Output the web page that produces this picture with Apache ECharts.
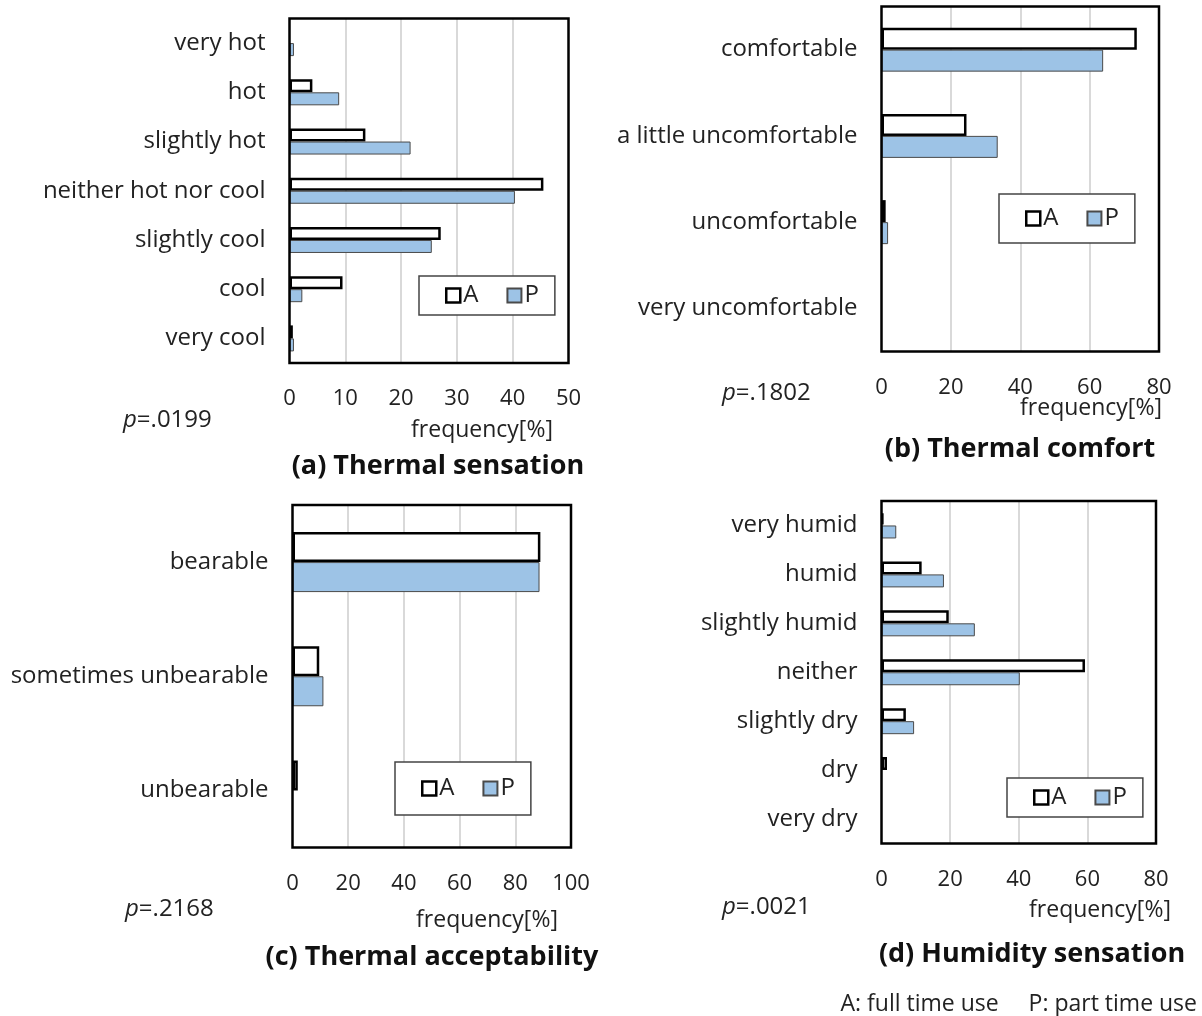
<!DOCTYPE html>
<html style="height: 100%;">
<head>
<meta charset="utf-8">
<title>thermal survey</title>
<script type="text/javascript" src="https://cdn.jsdelivr.net/npm/echarts@6/dist/echarts.min.js"></script>
</head>
<body style="height: 100%; margin: 0; background: #fff;">
<div id="container" style="width: 1202px; height: 1016px;"></div>
<script type="text/javascript">
// categories (top to bottom)
var sensationCats = ['very hot', 'hot', 'slightly hot', 'neither hot nor cool', 'slightly cool', 'cool', 'very cool'];
var comfortCats = ['comfortable', 'a little uncomfortable', 'uncomfortable', 'very uncomfortable'];
var acceptCats = ['bearable', 'sometimes unbearable', 'unbearable'];
var humidCats = ['very humid', 'humid', 'slightly humid', 'neither', 'slightly dry', 'dry', 'very dry'];

// frequency [%], A = full time use, P = part time use
var sensationA = [0, 4.1, 13.6, 45.5, 27.1, 9.5, 0.6];
var sensationP = [0.8, 8.9, 21.7, 40.4, 25.5, 2.3, 0.8];
var comfortA = [73.6, 24.5, 1.2, 0];
var comfortP = [63.9, 33.5, 1.9, 0];
var acceptA = [89.0, 9.6, 1.9];
var acceptP = [88.7, 11.1, 0];
var humidA = [0.5, 11.7, 19.6, 59.3, 7.1, 1.6, 0];
var humidP = [4.3, 18.2, 27.2, 40.3, 9.5, 0, 0];

var xMax = [50, 80, 100, 80];
var xStep = [10, 20, 20, 20];
var pValues = ['.0199', '.1802', '.2168', '.0021'];
var titles = ['(a) Thermal sensation', '(b) Thermal comfort', '(c) Thermal acceptability', '(d) Humidity sensation'];

var FONT = 'Open Sans';
var dom = document.getElementById('container');
var myChart = echarts.init(dom);

var grids = [
  {left: 289.5, top: 18.5, width: 279, height: 344.5},
  {left: 881.5, top: 6.5, width: 277.5, height: 345},
  {left: 292.5, top: 505, width: 278.5, height: 342.5},
  {left: 881.5, top: 501, width: 274.5, height: 342.5}
];
var barW = [13, 22, 30, 13];
var cats = [sensationCats, comfortCats, acceptCats, humidCats];
var dataA = [sensationA, comfortA, acceptA, humidA];
var dataP = [sensationP, comfortP, acceptP, humidP];
var legendPos = [[419, 276], [999, 194], [395, 762], [1007, 778]];
var legendH = [33, 43, 47, 33];

// zero shares are not drawn in the original
function noZero(arr) {
  return arr.map(function (v) { return v === 0 ? '-' : v; });
}

var xAxes = [], yAxes = [], series = [], legends = [], graphics = [];
for (var i = 0; i < 4; i++) {
  xAxes.push({
    type: 'value', gridIndex: i, min: 0, max: xMax[i], interval: xStep[i],
    axisLine: {show: false}, axisTick: {show: false},
    splitLine: {showMinLine: false, showMaxLine: false, lineStyle: {color: '#d9d9d9', width: 2}},
    axisLabel: {color: '#222', fontFamily: FONT, fontSize: 22, margin: 25}
  });
  yAxes.push({
    type: 'category', gridIndex: i, data: cats[i], inverse: true,
    axisLine: {show: false}, axisTick: {show: false},
    axisLabel: {color: '#222', fontFamily: FONT, fontSize: 24, margin: 24}
  });
  series.push({
    name: 'A', type: 'bar', xAxisIndex: i, yAxisIndex: i, data: noZero(dataA[i]),
    barWidth: barW[i], barGap: '0%',
    itemStyle: {color: '#fff', borderColor: '#000', borderWidth: 2.5},
    emphasis: {disabled: true}
  });
  series.push({
    name: 'P', type: 'bar', xAxisIndex: i, yAxisIndex: i, data: noZero(dataP[i]),
    barWidth: barW[i], barGap: '0%',
    itemStyle: {color: '#9dc3e6', borderColor: '#4a4a4a', borderWidth: 1},
    emphasis: {disabled: true}
  });
  var padV = (legendH[i] - 18) / 2;
  legends.push({
    data: [{name: 'A', itemStyle: {borderWidth: 2.5, borderColor: '#000'}}, 'P'],
    left: legendPos[i][0], top: legendPos[i][1],
    orient: 'horizontal', icon: 'rect', itemWidth: 14, itemHeight: 14,
    itemGap: 28, padding: [padV, 16, padV, 26],
    borderColor: '#444', borderWidth: 1.5, backgroundColor: '#fff',
    selectedMode: false,
    textStyle: {fontFamily: FONT, fontSize: 24, color: '#222', padding: [0, 0, 0, -2]}
  });
  // plot frame, drawn over the split lines
  graphics.push({
    type: 'rect', z: 10, silent: true,
    shape: {x: grids[i].left, y: grids[i].top, width: grids[i].width, height: grids[i].height},
    style: {fill: null, stroke: '#000', lineWidth: 2.5}
  });
}

var pPos = [[123, 420], [722, 393], [125, 909], [722, 907]];
var fqPos = [[482, 430], [1091, 408], [487, 920], [1100, 910]];
var titlePos = [[438, 466], [1020, 449], [432, 957], [1032, 954]];
for (var k = 0; k < 4; k++) {
  graphics.push({
    type: 'text', x: pPos[k][0], y: pPos[k][1],
    style: {rich: {i: {fontStyle: 'italic', fontFamily: FONT, fontSize: 24, fill: '#222'},
                   n: {fontFamily: FONT, fontSize: 24, fill: '#222'}},
            text: '{i|p}{n|=' + pValues[k] + '}', verticalAlign: 'middle'}
  });
  graphics.push({
    type: 'text', x: fqPos[k][0], y: fqPos[k][1],
    style: {text: 'frequency[%]', fontFamily: FONT, fontSize: 23, fill: '#222', align: 'center', verticalAlign: 'middle'}
  });
  graphics.push({
    type: 'text', x: titlePos[k][0], y: titlePos[k][1],
    style: {text: titles[k], fontFamily: FONT, fontSize: 27, fontWeight: 'bold', fill: '#111', align: 'center', verticalAlign: 'middle'}
  });
}
graphics.push({
  type: 'text', x: 1197, y: 1004,
  style: {text: 'A: full time use     P: part time use', fontFamily: FONT, fontSize: 23, fill: '#222', align: 'right', verticalAlign: 'middle'}
});

var option = {
  animation: false,
  grid: grids,
  xAxis: xAxes,
  yAxis: yAxes,
  legend: legends,
  series: series,
  graphic: graphics
};
myChart.setOption(option);
</script>
</body>
</html>
